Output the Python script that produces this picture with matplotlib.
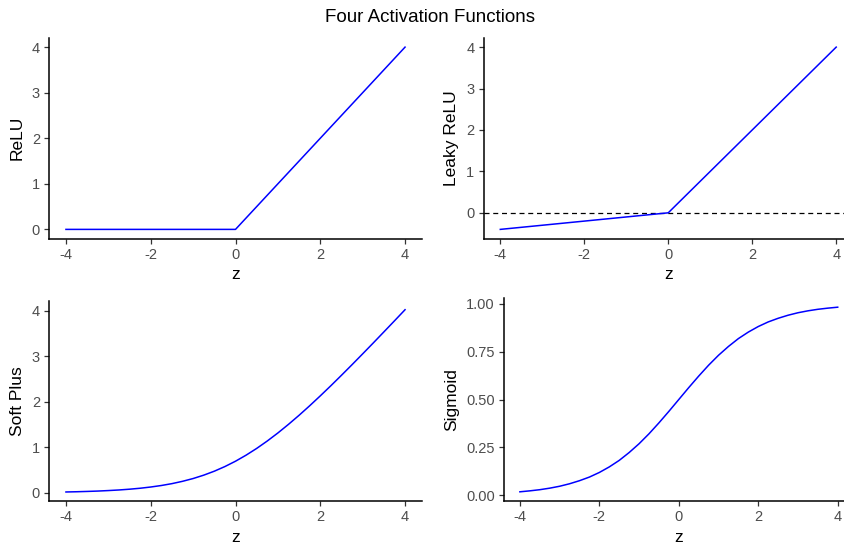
import matplotlib
matplotlib.use("Agg")
import matplotlib.pyplot as plt

plt.rcParams['font.family'] = ['Liberation Sans', 'DejaVu Sans']
plt.rcParams['axes.unicode_minus'] = False

# data
z_line = [-4, 0, 4]
relu_y = [0, 0, 4]
leaky_y = [-0.4, 0, 4]

z_curve = [-4.0, -3.75, -3.5, -3.25, -3.0, -2.75, -2.5, -2.25, -2.0, -1.75, -1.5,
           -1.25, -1.0, -0.75, -0.5, -0.25, 0.0, 0.25, 0.5, 0.75, 1.0, 1.25, 1.5,
           1.75, 2.0, 2.25, 2.5, 2.75, 3.0, 3.25, 3.5, 3.75, 4.0]
softplus_y = [0.018, 0.023, 0.030, 0.038, 0.049, 0.062, 0.079, 0.100, 0.127, 0.160,
              0.201, 0.252, 0.313, 0.387, 0.474, 0.576, 0.693, 0.826, 0.974, 1.137,
              1.313, 1.502, 1.701, 1.910, 2.127, 2.350, 2.579, 2.812, 3.049, 3.288,
              3.530, 3.773, 4.018]
sigmoid_y = [0.018, 0.023, 0.029, 0.037, 0.047, 0.060, 0.076, 0.095, 0.119, 0.148,
             0.182, 0.223, 0.269, 0.321, 0.378, 0.438, 0.500, 0.562, 0.622, 0.679,
             0.731, 0.777, 0.818, 0.852, 0.881, 0.905, 0.924, 0.940, 0.953, 0.963,
             0.971, 0.977, 0.982]

x_ticks = [-4, -2, 0, 2, 4]
W, H = 844, 545

fig = plt.figure(figsize=(W / 100, H / 100), dpi=100)


def panel(left, top, right, bottom):
    # pixel box -> figure fraction
    return fig.add_axes([left / W, 1 - bottom / H, (right - left) / W, (bottom - top) / H])


def style(ax, ylabel, ylim, yticks, ytl=None):
    ax.set_xlim(-4.4, 4.4)
    ax.set_ylim(*ylim)
    ax.set_xticks(x_ticks)
    ax.set_xticklabels([str(t) for t in x_ticks])
    ax.set_yticks(yticks)
    if ytl is not None:
        ax.set_yticklabels(ytl)
    for s in ['top', 'right']:
        ax.spines[s].set_visible(False)
    for s in ['left', 'bottom']:
        ax.spines[s].set_linewidth(1.1)
        ax.spines[s].set_color('black')
    ax.tick_params(length=3.5, width=0.9, color='#333333', labelcolor='#4D4D4D',
                   labelsize=10.5, pad=3)
    ax.set_xlabel('z', fontsize=12.5, labelpad=4)
    ax.set_ylabel(ylabel, fontsize=12.5, labelpad=5)


ax1 = panel(49, 38, 422, 238.5)
ax1.plot(z_line, relu_y, color='blue', lw=1.1)
style(ax1, 'ReLU', (-0.2, 4.2), [0, 1, 2, 3, 4])

ax2 = panel(483.5, 38, 853, 238.5)
ax2.axhline(0, color='black', ls='--', lw=0.9, dashes=(4, 3))
ax2.plot(z_line, leaky_y, color='blue', lw=1.1)
style(ax2, 'Leaky ReLU', (-0.62, 4.22), [0, 1, 2, 3, 4])

ax3 = panel(49, 300.5, 422, 501)
ax3.plot(z_curve, softplus_y, color='blue', lw=1.1)
style(ax3, 'Soft Plus', (-0.18, 4.22), [0, 1, 2, 3, 4])

ax4 = panel(504, 298, 853.6, 501)
ax4.plot(z_curve, sigmoid_y, color='blue', lw=1.1)
style(ax4, 'Sigmoid', (-0.03, 1.03), [0, 0.25, 0.5, 0.75, 1.0],
      ['0.00', '0.25', '0.50', '0.75', '1.00'])

fig.text(0.51, 1 - 17 / H, 'Four Activation Functions', ha='center', va='center',
         fontsize=13.5, color='black')

fig.savefig('out.png', dpi=100)
